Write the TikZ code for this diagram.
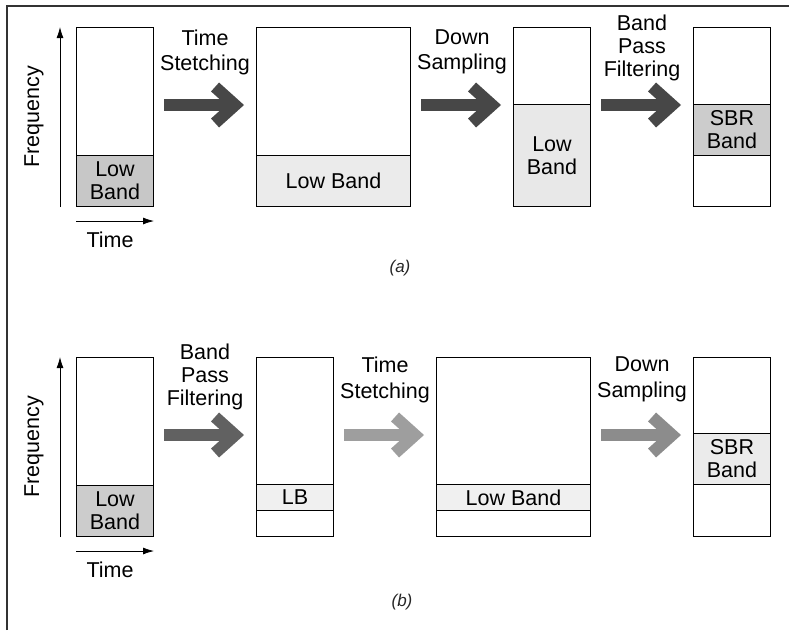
\documentclass[tikz,border=0pt]{standalone}
\usepackage{fontspec}
\setmainfont{Liberation Sans}
\usetikzlibrary{positioning,arrows.meta}

\begin{document}
\begin{tikzpicture}[x=1pt, y=-1pt, node distance=102pt,
	every node/.style={font=\fontsize{21.5}{23}\selectfont, inner sep=0pt},
	box/.style={draw, line width=1pt, minimum height=179pt, minimum width=77pt},
	wide/.style={box, minimum width=154pt},
	band/.style={draw, line width=1pt, minimum height=51pt, minimum width=77pt, align=center, anchor=south},
	fat/.style={line width=12pt, -{Straight Barb[length=20pt, width=36pt]}, shorten <=10pt, shorten >=12pt},
	axis/.style={line width=0.8pt, -{Latex[length=11pt, width=7pt]}},
	steplabel/.style={above=27pt, align=center, text=black},
	caption/.style={font=\fontsize{17}{19}\selectfont\itshape, text=black!85}]
	\useasboundingbox (0,0) rectangle (789,630);
	\draw[line width=1.2pt, black!80] (7,630) -- (7,6) -- (789,6);

	% (a) low band taken first
	\node[box, anchor=north west] (a1) at (76,27) {};
	\node[wide, right=of a1] (a2) {};
	\node[box, right=of a2] (a3) {};
	\node[box, right=of a3] (a4) {};
	\node[band, fill=black!22] (a1lb) at (a1.south) {Low\\Band};
	\node[band, fill=black!8, minimum width=154pt] (a2lb) at (a2.south) {Low Band};
	\node[band, fill=black!9, minimum height=102pt] (a3lb) at (a3.south) {Low\\Band};
	\node[band, fill=black!20] (a4sbr) at ([yshift=51pt]a4.south) {SBR\\Band};
	\draw[axis] ([xshift=-16pt]a1.south west) -- ([xshift=-16pt]a1.north west);
	\draw[axis] ([yshift=-14pt]a1.south west) -- ([yshift=-14pt]a1.south east);
	\node[rotate=90] (afreq) at ([xshift=-42pt]a1.west) {Frequency};
	\node (atime) at ([xshift=-5pt, yshift=-33pt]a1.south) {Time};
	\draw[fat, black!72] ([yshift=12pt]a1.east) -- node[steplabel, above=24pt, font=\fontsize{21.5}{25}\selectfont] (a12) {Time\\Stetching} ([yshift=12pt]a2.west);
	\draw[fat, black!72] ([yshift=12pt]a2.east) -- node[steplabel, above=25pt, font=\fontsize{21.5}{25}\selectfont] (a23) {Down\\Sampling} ([yshift=12pt]a3.west);
	\draw[fat, black!72] ([yshift=12pt]a3.east) -- node[steplabel, above=18pt] (a34) {Band\\Pass\\Filtering} ([yshift=12pt]a4.west);
	\node[caption] (acap) at (400,268) {(a)};

	% (b) band pass filtering first
	\node[box, anchor=north west] (b1) at (76,357) {};
	\node[box, right=of b1] (b2) {};
	\node[wide, right=of b2] (b3) {};
	\node[box, right=of b3] (b4) {};
	\node[band, fill=black!20] (b1lb) at (b1.south) {Low\\Band};
	\node[band, fill=black!6, minimum height=26pt] (b2lb) at ([yshift=26pt]b2.south) {LB};
	\node[band, fill=black!6, minimum height=26pt, minimum width=154pt] (b3lb) at ([yshift=26pt]b3.south) {Low Band};
	\node[band, fill=black!8] (b4sbr) at ([yshift=52pt]b4.south) {SBR\\Band};
	\draw[axis] ([xshift=-16pt]b1.south west) -- ([xshift=-16pt]b1.north west);
	\draw[axis] ([yshift=-14pt]b1.south west) -- ([yshift=-14pt]b1.south east);
	\node[rotate=90] (bfreq) at ([xshift=-42pt]b1.west) {Frequency};
	\node (btime) at ([xshift=-5pt, yshift=-33pt]b1.south) {Time};
	\draw[fat, black!62] ([yshift=12pt]b1.east) -- node[steplabel, above=19pt] (b12) {Band\\Pass\\Filtering} ([yshift=12pt]b2.west);
	\draw[fat, black!38] ([yshift=12pt]b2.east) -- node[steplabel, above=26pt, font=\fontsize{21.5}{26}\selectfont] (b23) {Time\\Stetching} ([yshift=12pt]b3.west);
	\draw[fat, black!45] ([yshift=12pt]b3.east) -- node[steplabel, above=27pt, font=\fontsize{21.5}{26}\selectfont] (b34) {Down\\Sampling} ([yshift=12pt]b4.west);
	\node[caption] (bcap) at (402,602) {(b)};
\end{tikzpicture}
\end{document}
